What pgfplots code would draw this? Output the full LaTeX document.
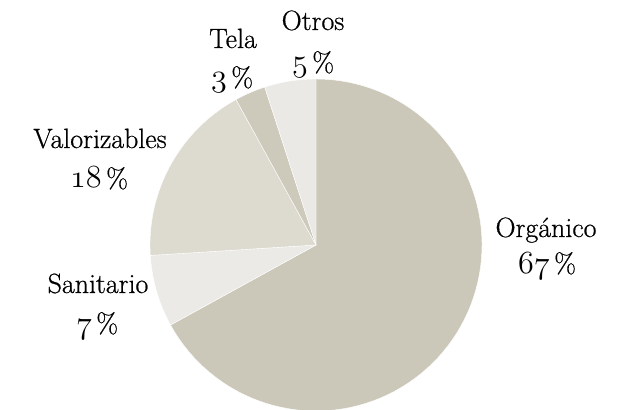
\documentclass[border=0pt]{standalone}
\usepackage{fontspec}
\setmainfont{Latin Modern Roman}
\usepackage{graphicx}
\usepackage{pgfplots}
\pgfplotsset{compat=1.18}
\definecolor{cOrg}{HTML}{CBC8B9}
\definecolor{cSan}{HTML}{EBEAE6}
\definecolor{cVal}{HTML}{DDDBD0}
\definecolor{cTel}{HTML}{CDCABC}
\definecolor{cOtr}{HTML}{EBE9E5}
\newcommand{\os}[1]{\scalebox{1.3}{\usefont{OML}{lmm}{m}{it}#1}}
% percentages of each slice (clockwise from the top)
\def\pOrg{67}
\def\pSan{7}
\def\pVal{18}
\def\pTel{3}
\def\pOtr{5}
\newcommand{\slice}[3]{% #1 cumulative before, #2 pct, #3 colour
  \pgfmathsetmacro{\aS}{90-3.6*(#1)}%
  \pgfmathsetmacro{\aE}{90-3.6*((#1)+(#2))}%
  \addplot[fill=#3, draw=white, line width=0.4pt, domain=\aE:\aS, samples=90]
    ({316+166*cos(x)},{164+166*sin(x)}) -- (axis cs:316,164) -- cycle;
}
\begin{document}
\begin{tikzpicture}
\begin{axis}[
  scale only axis, width=640bp, height=409bp,
  xmin=0, xmax=640, ymin=0, ymax=409,
  hide axis, clip=true,
]
\path (rel axis cs:0,0) rectangle (rel axis cs:1,1);
\slice{0}{\pOrg}{cOrg}
\slice{\pOrg}{\pSan}{cSan}
\slice{\pOrg+\pSan}{\pVal}{cVal}
\slice{\pOrg+\pSan+\pVal}{\pTel}{cTel}
\slice{\pOrg+\pSan+\pVal+\pTel}{\pOtr}{cOtr}
\begin{scope}[every node/.style={anchor=base, inner sep=0pt, font=\fontsize{28}{32}\selectfont\addfontfeatures{FakeBold=0.6}}]
\node at (axis cs:100,261) {Valorizables};
\node at (axis cs:99,221) {\os{18}\,\%};
\node at (axis cs:233,361) {Tela};
\node at (axis cs:232,322) {\os{3}\,\%};
\node at (axis cs:313,379) {Otros};
\node at (axis cs:313,337) {\os{5}\,\%};
\node at (axis cs:546,172) {Orgánico};
\node at (axis cs:547,136) {\os{67}\,\%};
\node at (axis cs:98,116) {Sanitario};
\node at (axis cs:97,76) {\os{7}\,\%};
\end{scope}
\end{axis}
\end{tikzpicture}
\end{document}
